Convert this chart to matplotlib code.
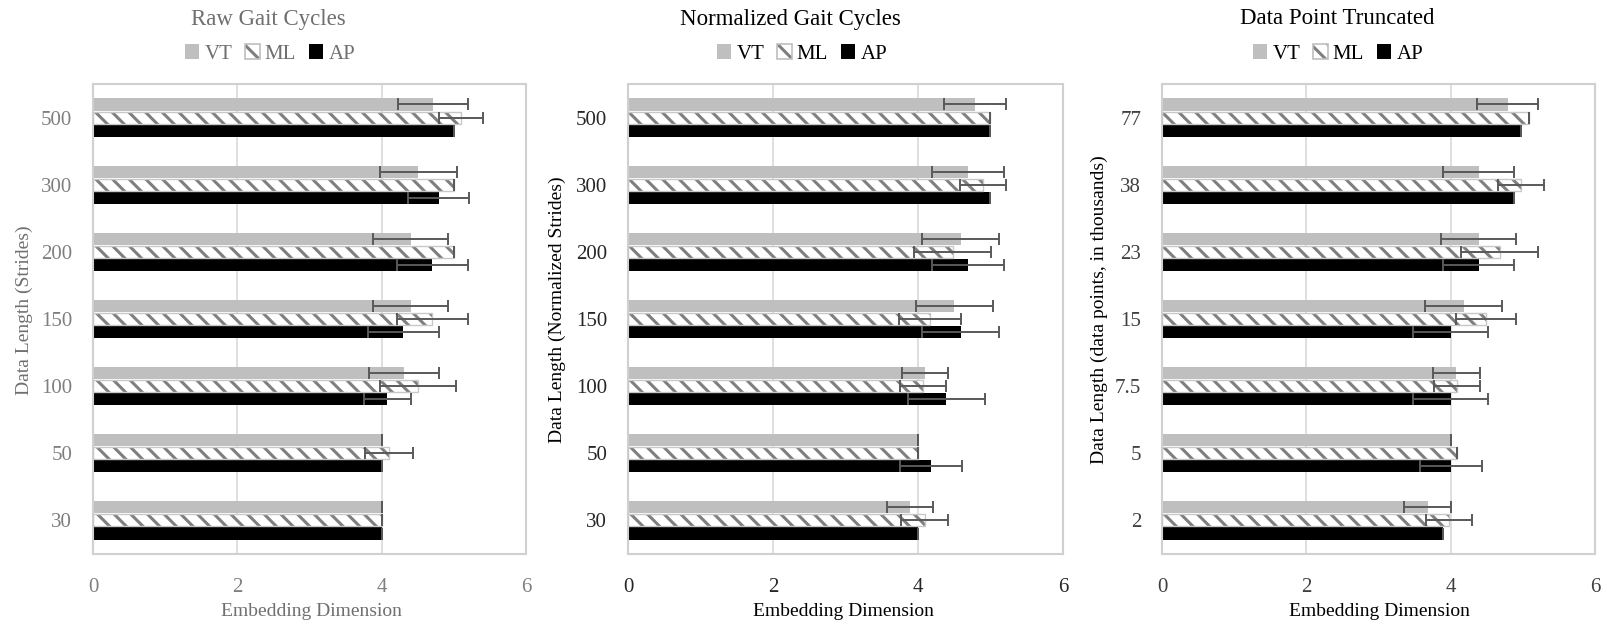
import numpy as np
import matplotlib
matplotlib.use("Agg")
import matplotlib.pyplot as plt
from matplotlib.patches import Patch

plt.rcParams['font.family'] = ['Liberation Serif', 'DejaVu Serif']
plt.rcParams['hatch.linewidth'] = 2.2

# ---- data (bottom category first) ----
raw_cats = ['30', '50', '100', '150', '200', '300', '500']
raw_vt = [4.0, 4.0, 4.31, 4.40, 4.40, 4.51, 4.71]
raw_vt_err = [0.0, 0.0, 0.49, 0.52, 0.52, 0.53, 0.49]
raw_ml = [4.0, 4.10, 4.50, 4.70, 5.0, 5.0, 5.10]
raw_ml_err = [0.0, 0.33, 0.53, 0.49, 0.0, 0.0, 0.31]
raw_ap = [4.0, 4.0, 4.08, 4.30, 4.70, 4.79, 5.0]
raw_ap_err = [0.0, 0.0, 0.33, 0.49, 0.49, 0.42, 0.0]

norm_cats = ['30', '50', '100', '150', '200', '300', '500']
norm_vt = [3.89, 4.0, 4.10, 4.50, 4.59, 4.69, 4.79]
norm_vt_err = [0.32, 0.0, 0.32, 0.53, 0.53, 0.49, 0.43]
norm_ml = [4.09, 4.0, 4.07, 4.17, 4.48, 4.90, 5.0]
norm_ml_err = [0.32, 0.0, 0.32, 0.43, 0.53, 0.32, 0.0]
norm_ap = [4.0, 4.18, 4.39, 4.59, 4.69, 5.0, 5.0]
norm_ap_err = [0.0, 0.43, 0.53, 0.53, 0.49, 0.0, 0.0]

trunc_cats = ['2', '5', '7.5', '15', '23', '38', '77']
trunc_vt = [3.68, 4.0, 4.08, 4.18, 4.39, 4.39, 4.79]
trunc_vt_err = [0.32, 0.0, 0.32, 0.53, 0.52, 0.49, 0.42]
trunc_ml = [3.98, 4.09, 4.09, 4.49, 4.68, 4.98, 5.09]
trunc_ml_err = [0.32, 0.0, 0.32, 0.42, 0.53, 0.32, 0.0]
trunc_ap = [3.89, 4.0, 4.0, 4.0, 4.39, 4.875, 4.98]
trunc_ap_err = [0.0, 0.43, 0.52, 0.52, 0.49, 0.0, 0.0]

W, H = 1608, 626
fig = plt.figure(figsize=(W / 100, H / 100), dpi=100)

GRAY_BAR = '#bfbfbf'
HATCH_COL = '#7f7f7f'
ERR_COL = '#595959'


def px(x0, x1, y0, y1):
    return [x0 / W, 1 - y1 / H, (x1 - x0) / W, (y1 - y0) / H]


def panel(rect, cats, vt, vte, ml, mle, ap, ape, title, ylabel,
          title_x, leg_x, ylab_x, xlab_x, tcol, lcol):
    ax = fig.add_axes(px(*rect))
    y = np.arange(len(cats))
    h = 0.18
    off = 0.195
    ekw = dict(ecolor=ERR_COL, elinewidth=1.4, capsize=4, capthick=1.4)
    ax.barh(y + off, vt, height=h, color=GRAY_BAR, edgecolor='none', zorder=2)
    ax.errorbar(vt, y + off, xerr=vte, fmt='none', zorder=4, **ekw)
    ax.barh(y, ml, height=h, color='white', edgecolor=HATCH_COL,
            hatch='\\\\', linewidth=0, zorder=2)
    ax.barh(y, ml, height=h, color='none', edgecolor='#c8c8c8',
            linewidth=1.0, zorder=3)
    ax.errorbar(ml, y, xerr=mle, fmt='none', zorder=4, **ekw)
    ax.barh(y - off, ap, height=h, color='black', edgecolor='none', zorder=2)
    ax.errorbar(ap, y - off, xerr=ape, fmt='none', zorder=4, **ekw)

    ax.set_xlim(0, 6)
    ax.set_ylim(-0.5, len(cats) - 0.5)
    ax.set_xticks([0, 2, 4, 6])
    ax.set_yticks(y)
    ax.set_yticklabels(cats)
    ax.tick_params(length=0, labelsize=15, colors=tcol)
    ax.tick_params(axis='x', pad=17)
    ax.tick_params(axis='y', pad=15)
    ax.grid(axis='x', color='#d9d9d9', linewidth=1.2, zorder=0)
    ax.set_axisbelow(True)
    for s in ax.spines.values():
        s.set_color('#d0d0d0')
        s.set_linewidth(1.5)

    fig.text(title_x / W, 1 - 19 / H, title, ha='center', va='center',
             fontsize=16.5, color=lcol)
    fig.text(ylab_x / W, 1 - 310 / H, ylabel, ha='center', va='center',
             rotation=90, fontsize=14, color=lcol)
    fig.text(xlab_x / W, 1 - 612 / H, 'Embedding Dimension', ha='center',
             va='center', fontsize=14, color=lcol)

    ml_handle = (Patch(facecolor='white', edgecolor=HATCH_COL, hatch='\\\\',
                       linewidth=0),
                 Patch(facecolor='none', edgecolor='#bfbfbf', linewidth=1.2))
    handles = [Patch(facecolor=GRAY_BAR, edgecolor='none'),
               ml_handle,
               Patch(facecolor='black', edgecolor='none')]
    fig.legend(handles, ['VT', 'ML', 'AP'], loc='center',
               bbox_to_anchor=(leg_x / W, 1 - 54 / H), ncol=3,
               frameon=False, handlelength=0.7, handleheight=0.7,
               handletextpad=0.25, columnspacing=0.6, fontsize=15,
               labelcolor=lcol)
    return ax


panel((93, 526, 84, 554), raw_cats, raw_vt, raw_vt_err, raw_ml, raw_ml_err,
      raw_ap, raw_ap_err, 'Raw Gait Cycles', 'Data Length (Strides)',
      268, 270, 24, 311, '#7f7f7f', '#6f6f6f')
panel((628, 1063, 84, 554), norm_cats, norm_vt, norm_vt_err, norm_ml,
      norm_ml_err, norm_ap, norm_ap_err, 'Normalized Gait Cycles',
      'Data Length (Normalized Strides)', 790, 802, 557, 843,
      '#262626', '#000000')
panel((1162, 1595, 84, 554), trunc_cats, trunc_vt, trunc_vt_err, trunc_ml,
      trunc_ml_err, trunc_ap, trunc_ap_err, 'Data Point Truncated',
      'Data Length (data points, in thousands)', 1337, 1338, 1099, 1379,
      '#404040', '#000000')

fig.savefig('out.png', dpi=100)
